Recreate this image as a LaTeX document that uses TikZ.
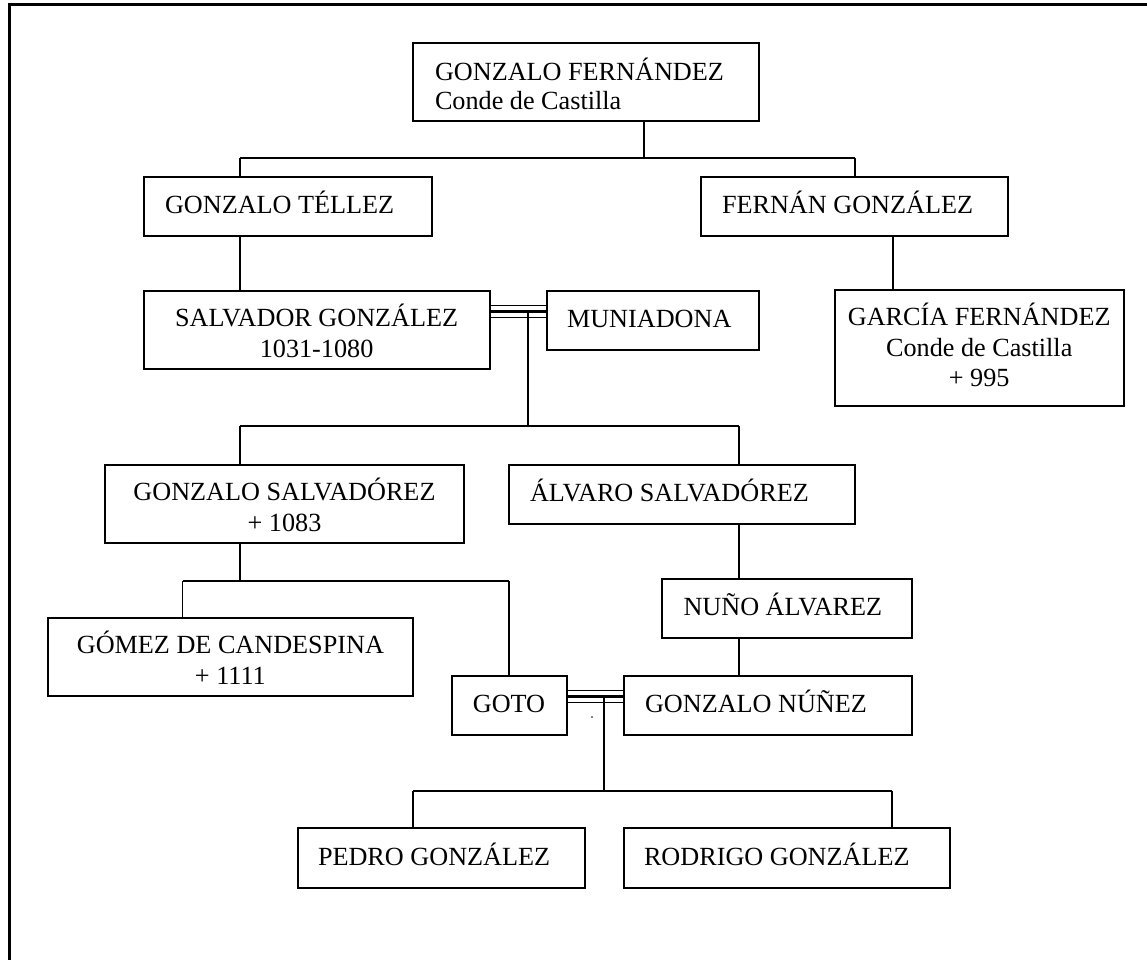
\documentclass[tikz,border=0pt]{standalone}
\usepackage{fontspec}
\setmainfont{Liberation Serif}
\begin{document}
\begin{tikzpicture}[x=1pt,y=-1pt,
  box/.style={draw, line width=2pt, inner sep=0pt, outer sep=0pt, anchor=north west},
  lbl/.style={inner sep=0pt, outer sep=0pt, font=\fontsize{26.2}{31}\selectfont},
  link/.style={line width=1.9pt},
  thinline/.style={line width=1.5pt},
  heavyline/.style={line width=3.3pt},
  frm/.style={line width=3.2pt, line join=miter}]
\useasboundingbox (0,0) rectangle (1147,959);

% frame
\coordinate (fA) at (9.7,962);
\coordinate (fB) at (9.7,4.8);
\coordinate (fC) at (1150,4.8);
\draw[frm] (fA) -- (fB) -- (fC);

% boxes
\node[box, minimum width=346.3pt, minimum height=78pt]   (gf)  at (412.7,42.7) {};
\node[box, minimum width=288.25pt, minimum height=59pt]  (gt)  at (143.75,177) {};
\node[box, minimum width=307.2pt, minimum height=59pt]   (fg)  at (700.8,177) {};
\node[box, minimum width=345.75pt, minimum height=78pt]  (sg)  at (143.75,291) {};
\node[box, minimum width=212pt, minimum height=59pt]     (mu)  at (547,291) {};
\node[box, minimum width=288.5pt, minimum height=116pt]  (gfz) at (835,290) {};
\node[box, minimum width=359pt, minimum height=77.7pt]   (gs)  at (105,465) {};
\node[box, minimum width=346pt, minimum height=59pt]     (as)  at (509,465) {};
\node[box, minimum width=250pt, minimum height=58.5pt]   (na)  at (662,579) {};
\node[box, minimum width=365.2pt, minimum height=78pt]   (gc)  at (47.8,617.7) {};
\node[box, minimum width=114.9pt, minimum height=58.5pt] (go)  at (451.6,676) {};
\node[box, minimum width=287.9pt, minimum height=58.5pt] (gn)  at (623.6,676) {};
\node[box, minimum width=287pt, minimum height=60pt]     (pg)  at (298,828) {};
\node[box, minimum width=326pt, minimum height=60pt]     (rg)  at (624,828) {};

% texts
\node[lbl, anchor=base west] (gf-1) at (435,80) {GONZALO FERNÁNDEZ};
\node[lbl, anchor=base west] (gf-2) at (435,109) {Conde de Castilla};
\node[lbl, anchor=base west] (gt-1) at (165,213.3) {GONZALO TÉLLEZ};
\node[lbl, anchor=base west] (fg-1) at (722,213.3) {FERNÁN GONZÁLEZ};
\node[lbl, anchor=base] (sg-1) at (316.6,326) {SALVADOR GONZÁLEZ};
\node[lbl, anchor=base] (sg-2) at (316.6,357) {1031-1080};
\node[lbl, anchor=base west] (mu-1) at (567,327) {MUNIADONA};
\node[lbl, anchor=base] (gfz-1) at (979.2,325) {GARCÍA FERNÁNDEZ};
\node[lbl, anchor=base] (gfz-2) at (979.2,356.7) {Conde de Castilla};
\node[lbl, anchor=base] (gfz-3) at (979.2,386.7) {+ 995};
\node[lbl, anchor=base] (gs-1) at (284.5,500.5) {GONZALO SALVADÓREZ};
\node[lbl, anchor=base] (gs-2) at (284.5,531.7) {+ 1083};
\node[lbl, anchor=base west] (as-1) at (530,501.3) {ÁLVARO SALVADÓREZ};
\node[lbl, anchor=base west] (na-1) at (683.5,615.3) {NUÑO ÁLVAREZ};
\node[lbl, anchor=base] (gc-1) at (230.4,653.3) {GÓMEZ DE CANDESPINA};
\node[lbl, anchor=base] (gc-2) at (230.4,684) {+ 1111};
\node[lbl, anchor=base] (go-1) at (509,712) {GOTO};
\node[lbl, anchor=base west] (gn-1) at (645,712) {GONZALO NÚÑEZ};
\node[lbl, anchor=base west] (pg-1) at (318,865) {PEDRO GONZÁLEZ};
\node[lbl, anchor=base west] (rg-1) at (644,865) {RODRIGO GONZÁLEZ};

% generation 1
\coordinate (j0) at (644,158.3);
\coordinate (h1l) at (240,158.3);
\coordinate (h1r) at (854.6,158.3);
\draw[link] (gf.south -| j0) -- (j0);
\draw[link] (h1l) -- (h1r);
\draw[link] (h1l) -- (h1l |- gt.north);
\draw[link] (h1r) -- (h1r |- fg.north);
\draw[link] (gt.south -| h1l) -- (sg.north -| h1l);
\coordinate (v2) at (893,250);
\draw[link] (fg.south -| v2) -- (gfz.north -| v2);

% couple Salvador - Muniadona
\coordinate (c1) at (528,311.5);
\coordinate (c1t) at (528,305.7);
\coordinate (c1b) at (528,317.3);
\draw[heavyline] (sg.east |- c1) -- (mu.west |- c1);
\draw[thinline] (sg.east |- c1t) -- (mu.west |- c1t);
\draw[thinline] (sg.east |- c1b) -- (mu.west |- c1b);
\coordinate (h2m) at (528,426);
\coordinate (h2l) at (240,426);
\coordinate (h2r) at (739,426);
\draw[link] (c1) -- (h2m);
\draw[link] (h2l) -- (h2r);
\draw[link] (h2l) -- (h2l |- gs.north);
\draw[link] (h2r) -- (h2r |- as.north);

% children of Gonzalo Salvadórez
\coordinate (h3m) at (240,581);
\coordinate (h3l) at (182.5,581);
\coordinate (h3r) at (509,581);
\draw[link] (gs.south -| h3m) -- (h3m);
\draw[link] (h3l) -- (h3r);
\draw[link] (h3l) -- (h3l |- gc.north);
\draw[link] (h3r) -- (h3r |- go.north);

% line of Álvaro
\draw[link] (as.south -| h2r) -- (na.north -| h2r);
\draw[link] (na.south -| h2r) -- (gn.north -| h2r);

% couple Goto - Gonzalo Núñez
\coordinate (c2) at (604,696.5);
\coordinate (c2t) at (604,690.3);
\coordinate (c2b) at (604,702.7);
\draw[heavyline] (go.east |- c2) -- (gn.west |- c2);
\draw[thinline] (go.east |- c2t) -- (gn.west |- c2t);
\draw[thinline] (go.east |- c2b) -- (gn.west |- c2b);
\fill (592,717) circle (0.9pt);
\coordinate (h4m) at (604,791);
\coordinate (h4l) at (413,791);
\coordinate (h4r) at (892,791);
\draw[link] (c2) -- (h4m);
\draw[link] (h4l) -- (h4r);
\draw[link] (h4l) -- (h4l |- pg.north);
\draw[link] (h4r) -- (h4r |- rg.north);
\end{tikzpicture}
\end{document}
